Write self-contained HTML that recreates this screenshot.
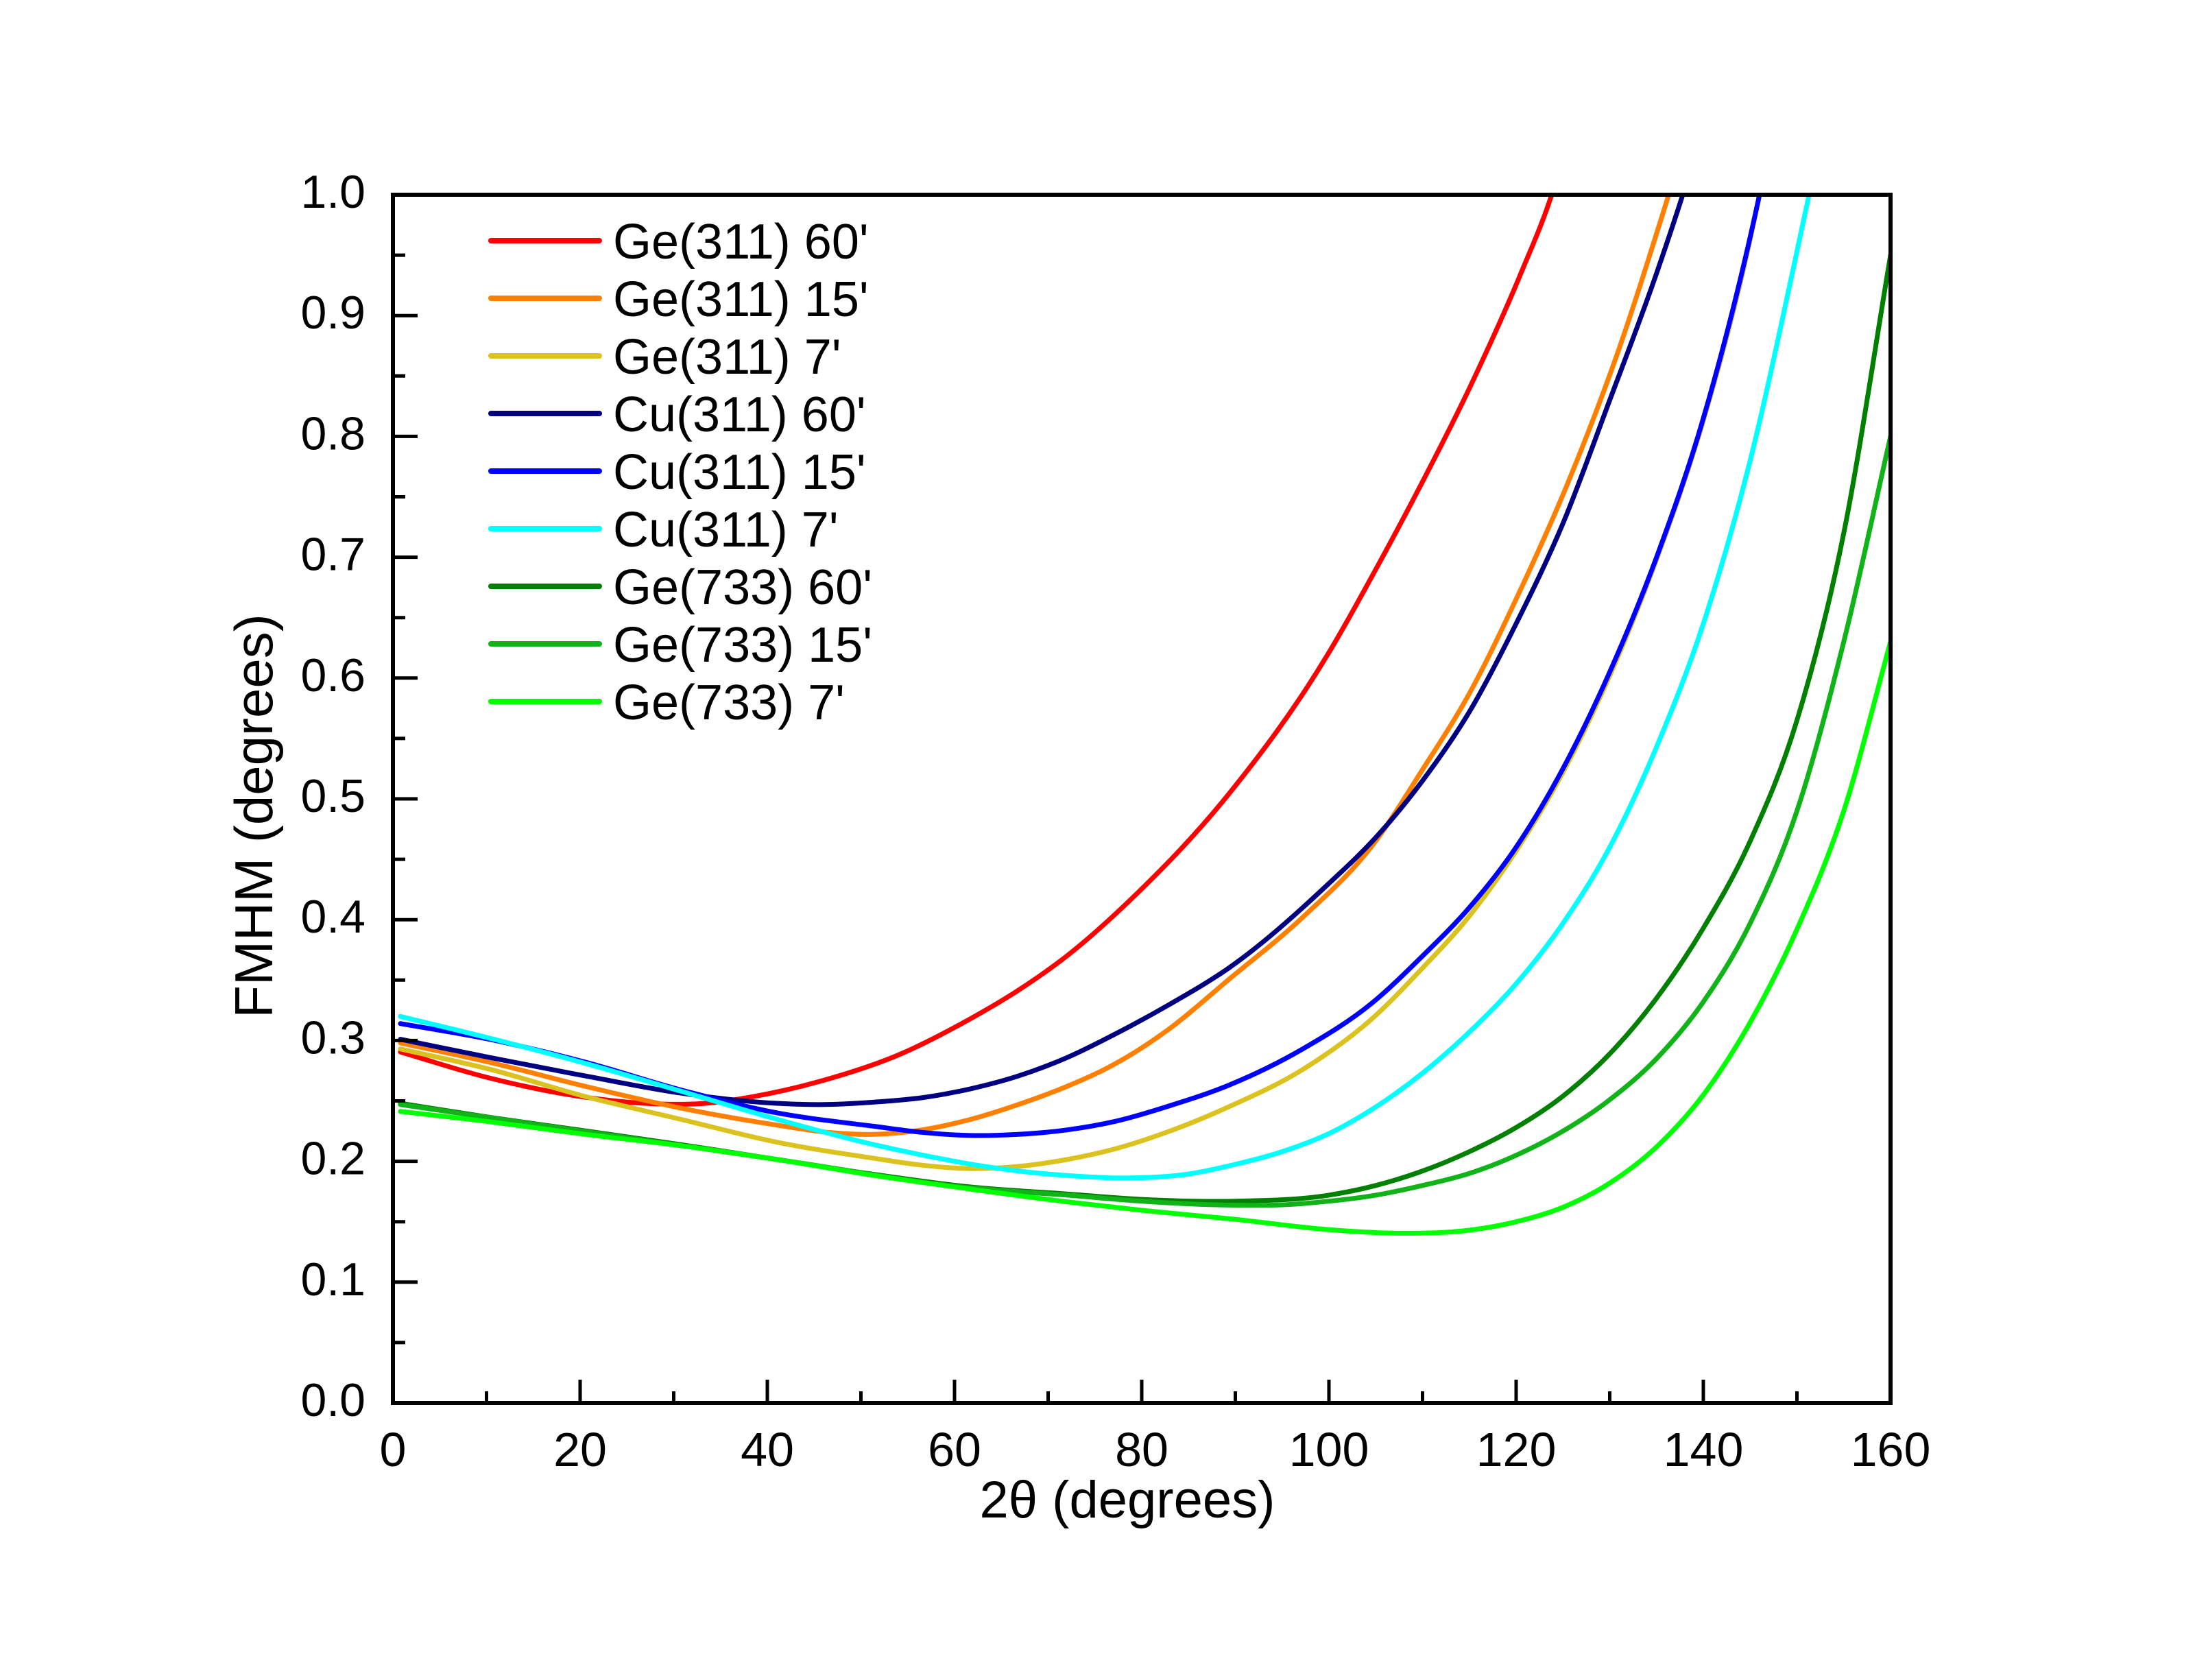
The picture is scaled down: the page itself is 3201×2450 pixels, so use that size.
<!DOCTYPE html>
<html><head><meta charset="utf-8"><style>
html,body{margin:0;padding:0;background:#fff;}
svg{display:block;}
text{font-family:"Liberation Sans",Arial,sans-serif;fill:#000;}
</style></head><body>
<svg id="s" width="3201" height="2450" viewBox="0 0 3201 2450" xmlns="http://www.w3.org/2000/svg">
<defs><clipPath id="c"><rect x="573" y="284" width="2184" height="1762"/></clipPath></defs>
<rect width="3201" height="2450" fill="#fff"/>
<g id="curves" clip-path="url(#c)" fill="none" stroke-width="7" stroke-linejoin="round" stroke-linecap="round"></g>
<g id="axes" stroke="#000" stroke-width="6" fill="none">
<rect x="573" y="284" width="2184" height="1762"/>
</g>
<g id="ticks" stroke="#000" stroke-width="5"></g>
<g id="labels"></g>
<g font-size="76">
<text x="1644" y="2213" text-anchor="middle">2θ (degrees)</text>
<text transform="translate(397,1190) rotate(-90)" text-anchor="middle" font-size="78">FMHM (degrees)</text>
</g>
<g id="legend" stroke-width="8" stroke-linecap="round"></g>
</svg>
<script>
var NS="http://www.w3.org/2000/svg";
function X(v){return 573+v*13.65;}
function Y(v){return 2046-v*1762;}
function el(t,a,p,txt){var e=document.createElementNS(NS,t);for(var k in a)e.setAttribute(k,a[k]);if(txt!=null)e.textContent=txt;p.appendChild(e);return e;}
var tk=document.getElementById('ticks'),lb=document.getElementById('labels');
for(var i=0;i<=20;i++){var v=i*0.05,y=Y(v),L=(i%2==0)?36:18;el('line',{x1:573,y1:y,x2:573+L,y2:y},tk);
 if(i%2==0)el('text',{x:533,y:y+19,'text-anchor':'end','font-size':68},lb,(i/20).toFixed(1));}
for(var i=0;i<=16;i++){var x=X(i*10),L=(i%2==0)?34:17;el('line',{x1:x,y1:2046,x2:x,y2:2046-L},tk);
 if(i%2==0)el('text',{x:x,y:2138,'text-anchor':'middle','font-size':70},lb,String(i*10));}
var S=[
["Ge(311) 60'","#ff0000",[[0.8,.2905],[10.3,.269],[20.6,.253],[28,.2476],[33.4,.248],[38.5,.2536],[46,.267],[54,.288],[61.7,.318],[66.8,.3415],[72,.370],[79,.418],[89.3,.504],[99.6,.616],[104.8,.687],[109.9,.761],[115.2,.843],[120.4,.933],[123.8,1.0],[125,1.03]]],
["Ge(311) 15'","#ff8000",[[0.8,.298],[10.3,.282],[20.6,.262],[30.8,.244],[41.1,.2299],[46.2,.2242],[51.4,.2223],[56.5,.226],[61.7,.2347],[66.8,.247],[72,.262],[77,.280],[83,.310],[89.3,.3505],[97.2,.402],[104.8,.463],[109.9,.523],[115.2,.59],[120.4,.672],[125.5,.761],[130.7,.866],[136.3,1.0],[137.5,1.03]]],
["Ge(311) 7'","#dcc21e",[[0.8,.293],[10.3,.2763],[20.6,.2536],[30.8,.2347],[41.1,.2157],[51.4,.2025],[56.5,.1968],[61.7,.194],[66.8,.1958],[72,.2015],[77,.210],[83,.225],[89.3,.2451],[97.2,.276],[104.6,.318],[110,.36],[115,.403],[120,.457],[125,.522],[130,.602],[135,.698],[140,.813],[145,.963],[146,1.0],[147,1.04]]],
["Cu(311) 60'","#000080",[[0.8,.301],[10.3,.286],[20.6,.2706],[30.8,.2564],[41,.248],[46,.247],[51.4,.249],[56.5,.2526],[61.7,.26],[66.8,.2706],[72,.2858],[77,.3047],[83,.33],[89.3,.36],[100,.43],[105,.468],[110,.515],[115,.572],[120,.645],[125,.728],[130,.83],[135,.935],[137.8,1.0],[139,1.03]]],
["Cu(311) 15'","#0000ff",[[0.8,.314],[10.3,.301],[20.6,.282],[30.8,.259],[41.1,.240],[51.4,.229],[56.5,.224],[61.7,.2214],[66.8,.2223],[72,.226],[77,.2328],[83,.246],[89.3,.263],[97.2,.293],[104.6,.331],[110,.37],[115,.41],[120,.46],[125,.525],[130,.605],[135,.70],[140,.815],[145,.965],[146,1.0],[147,1.04]]],
["Cu(311) 7'","#00ffff",[[0.8,.3199],[10.3,.302],[20.6,.281],[30.8,.258],[41.1,.2347],[51.4,.2138],[56.5,.2053],[61.7,.1977],[66.8,.192],[72,.1883],[78,.1862],[85,.1895],[90,.1975],[95,.208],[100,.223],[105,.245],[110,.273],[115,.307],[120,.347],[125,.397],[130,.46],[135,.543],[140,.645],[145,.78],[150,.953],[151.3,1.0],[152.5,1.04]]],
["Ge(733) 60'","#008000",[[0.8,.248],[10.3,.2365],[20.6,.2252],[30.8,.2138],[41.1,.2015],[51.4,.1892],[61.7,.1788],[72,.173],[80,.1685],[90,.167],[100,.172],[105,.18],[110,.192],[115,.208],[120,.228],[125,.254],[130,.289],[135,.335],[140,.393],[145,.465],[150,.565],[155,.72],[160,.95]]],
["Ge(733) 15'","#10b418",[[0.8,.247],[20.6,.2245],[41.1,.2015],[61.7,.178],[72,.172],[80,.167],[88,.164],[95,.164],[100,.167],[105,.172],[110,.18],[115,.19],[120,.205],[125,.225],[130,.251],[135,.285],[140,.332],[145,.397],[150,.49],[155,.63],[160,.80]]],
["Ge(733) 7'","#00ff00",[[0.8,.2413],[10.3,.2328],[20.6,.2223],[30.8,.2129],[41.1,.2015],[51.4,.1883],[61.7,.177],[72,.1665],[80,.1595],[90,.152],[100,.1435],[108,.1405],[115,.143],[120,.150],[125,.162],[130,.182],[135,.212],[140,.255],[145,.315],[150,.392],[155,.49],[160,.63]]]
];
function path(pts){var n=pts.length,x=pts.map(function(a){return a[0]}),y=pts.map(function(a){return a[1]}),m=[];
 for(var i=0;i<n;i++){
  if(i==0)m.push((y[1]-y[0])/(x[1]-x[0]));
  else if(i==n-1)m.push((y[n-1]-y[n-2])/(x[n-1]-x[n-2]));
  else{var h0=x[i]-x[i-1],h1=x[i+1]-x[i],d0=(y[i]-y[i-1])/h0,d1=(y[i+1]-y[i])/h1;m.push((h0*d1+h1*d0)/(h0+h1));}}
 var d="M"+X(x[0]).toFixed(1)+","+Y(y[0]).toFixed(1);
 for(var i=0;i<n-1;i++){var h=x[i+1]-x[i];
  d+=" C"+X(x[i]+h/3).toFixed(1)+","+Y(y[i]+m[i]*h/3).toFixed(1)+" "+X(x[i+1]-h/3).toFixed(1)+","+Y(y[i+1]-m[i+1]*h/3).toFixed(1)+" "+X(x[i+1]).toFixed(1)+","+Y(y[i+1]).toFixed(1);}
 return d;}
var cg=document.getElementById('curves'),lg=document.getElementById('legend');
S.forEach(function(s,i){el('path',{d:path(s[2]),stroke:s[1]},cg);
 var y=351+84*i;el('line',{x1:716,y1:y,x2:874,y2:y,stroke:s[1]},lg);
 el('text',{x:894,y:y+26,'font-size':72,stroke:'none'},lg,s[0]);});
</script>
</body></html>
